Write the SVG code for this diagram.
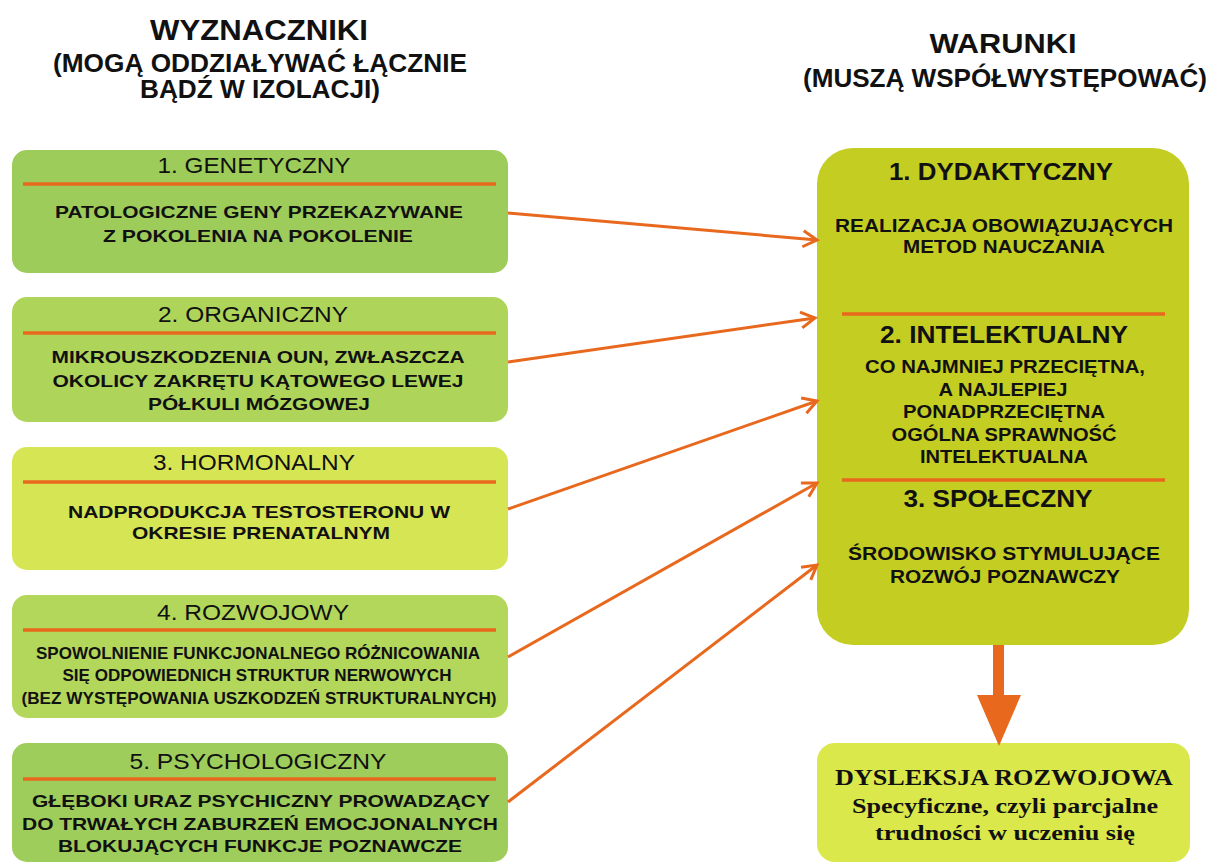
<svg xmlns="http://www.w3.org/2000/svg" width="1211" height="864" viewBox="0 0 1211 864">
<defs>
<style>
.hd{font-family:"Liberation Sans",Arial,sans-serif;font-weight:bold;fill:#111;text-anchor:middle}
.tt{font-family:"Liberation Sans",Arial,sans-serif;font-size:22px;fill:#111;text-anchor:middle}
.bd{font-family:"Liberation Sans",Arial,sans-serif;font-weight:bold;font-size:17px;fill:#111;text-anchor:middle}
.rt{font-family:"Liberation Sans",Arial,sans-serif;font-weight:bold;font-size:23px;fill:#111;text-anchor:middle}
.rb{font-family:"Liberation Sans",Arial,sans-serif;font-weight:bold;font-size:18px;fill:#111;text-anchor:middle}
.sf{font-family:"Liberation Serif","Times New Roman",serif;font-weight:bold;fill:#111;text-anchor:middle}
.sep{stroke:#e8691e;stroke-width:3.5}
.con{stroke:#e8691e;stroke-width:3;fill:none;marker-end:url(#arr)}
</style>
<marker id="arr" markerUnits="userSpaceOnUse" markerWidth="22" markerHeight="22" refX="17" refY="10" orient="auto">
<path d="M3,2 L17,10 L3,18" fill="none" stroke="#e8691e" stroke-width="3"/>
</marker>
</defs>
<rect width="1211" height="864" fill="#ffffff"/>

<g id="header-left">
<text class="hd" x="259" y="40" font-size="29" textLength="218" lengthAdjust="spacingAndGlyphs">WYZNACZNIKI</text>
<text class="hd" x="260" y="72" font-size="25" textLength="414" lengthAdjust="spacingAndGlyphs">(MOGĄ ODDZIAŁYWAĆ ŁĄCZNIE</text>
<text class="hd" x="260" y="98" font-size="25" textLength="240" lengthAdjust="spacingAndGlyphs">BĄDŹ W IZOLACJI)</text>
</g>
<g id="header-right">
<text class="hd" x="1003" y="53" font-size="28" textLength="147" lengthAdjust="spacingAndGlyphs">WARUNKI</text>
<text class="hd" x="1005" y="87" font-size="25" textLength="404" lengthAdjust="spacingAndGlyphs">(MUSZĄ WSPÓŁWYSTĘPOWAĆ)</text>
</g>

<g id="n1">
<rect x="12" y="150" width="496" height="123" rx="15" fill="#9dcc5a"/>
<line class="sep" x1="23" y1="184" x2="496" y2="184"/>
<text class="tt" x="254" y="173" textLength="193" lengthAdjust="spacingAndGlyphs">1. GENETYCZNY</text>
<text class="bd" x="259" y="218" textLength="408" lengthAdjust="spacingAndGlyphs">PATOLOGICZNE GENY PRZEKAZYWANE</text>
<text class="bd" x="258" y="242" textLength="310" lengthAdjust="spacingAndGlyphs">Z POKOLENIA NA POKOLENIE</text>
</g>
<g id="n2">
<rect x="12" y="297" width="496" height="125" rx="15" fill="#aed55a"/>
<line class="sep" x1="23" y1="333" x2="496" y2="333"/>
<text class="tt" x="253" y="322" textLength="190" lengthAdjust="spacingAndGlyphs">2. ORGANICZNY</text>
<text class="bd" x="258" y="363" textLength="413" lengthAdjust="spacingAndGlyphs">MIKROUSZKODZENIA OUN, ZWŁASZCZA</text>
<text class="bd" x="258" y="387" textLength="411" lengthAdjust="spacingAndGlyphs">OKOLICY ZAKRĘTU KĄTOWEGO LEWEJ</text>
<text class="bd" x="259" y="410" textLength="222" lengthAdjust="spacingAndGlyphs">PÓŁKULI MÓZGOWEJ</text>
</g>
<g id="n3">
<rect x="12" y="447" width="496" height="123" rx="15" fill="#d6e554"/>
<line class="sep" x1="23" y1="482" x2="496" y2="482"/>
<text class="tt" x="254" y="470" textLength="202" lengthAdjust="spacingAndGlyphs">3. HORMONALNY</text>
<text class="bd" x="259" y="518" textLength="382" lengthAdjust="spacingAndGlyphs">NADPRODUKCJA TESTOSTERONU W</text>
<text class="bd" x="261" y="539" textLength="258" lengthAdjust="spacingAndGlyphs">OKRESIE PRENATALNYM</text>
</g>
<g id="n4">
<rect x="12" y="595" width="496" height="123" rx="15" fill="#b3d75a"/>
<line class="sep" x1="23" y1="630" x2="496" y2="630"/>
<text class="tt" x="253" y="620" textLength="192" lengthAdjust="spacingAndGlyphs">4. ROZWOJOWY</text>
<text class="bd" x="258" y="659" font-size="16" textLength="444" lengthAdjust="spacingAndGlyphs">SPOWOLNIENIE FUNKCJONALNEGO RÓŻNICOWANIA</text>
<text class="bd" x="257" y="681" font-size="16" textLength="389" lengthAdjust="spacingAndGlyphs">SIĘ ODPOWIEDNICH STRUKTUR NERWOWYCH</text>
<text class="bd" x="259" y="704" font-size="16" textLength="475" lengthAdjust="spacingAndGlyphs">(BEZ WYSTĘPOWANIA USZKODZEŃ STRUKTURALNYCH)</text>
</g>
<g id="n5">
<rect x="12" y="743" width="496" height="119" rx="15" fill="#9ecd5b"/>
<line class="sep" x1="23" y1="779" x2="496" y2="779"/>
<text class="tt" x="258" y="769" textLength="257" lengthAdjust="spacingAndGlyphs">5. PSYCHOLOGICZNY</text>
<text class="bd" x="261" y="807" textLength="458" lengthAdjust="spacingAndGlyphs">GŁĘBOKI URAZ PSYCHICZNY PROWADZĄCY</text>
<text class="bd" x="260" y="830" textLength="476" lengthAdjust="spacingAndGlyphs">DO TRWAŁYCH ZABURZEŃ EMOCJONALNYCH</text>
<text class="bd" x="260" y="852" textLength="404" lengthAdjust="spacingAndGlyphs">BLOKUJĄCYCH FUNKCJE POZNAWCZE</text>
</g>

<g id="warunki">
<rect x="817" y="148" width="372" height="497" rx="36" fill="#c4cd22"/>
<line class="sep" x1="842" y1="314" x2="1165" y2="314"/>
<line class="sep" x1="842" y1="480" x2="1165" y2="480"/>
<text class="rt" x="1001" y="180" textLength="224" lengthAdjust="spacingAndGlyphs">1. DYDAKTYCZNY</text>
<text class="rb" x="1004" y="232" textLength="338" lengthAdjust="spacingAndGlyphs">REALIZACJA OBOWIĄZUJĄCYCH</text>
<text class="rb" x="1004" y="253" textLength="202" lengthAdjust="spacingAndGlyphs">METOD NAUCZANIA</text>
<text class="rt" x="1004" y="343" textLength="248" lengthAdjust="spacingAndGlyphs">2. INTELEKTUALNY</text>
<text class="rb" x="1005" y="373" textLength="280" lengthAdjust="spacingAndGlyphs">CO NAJMNIEJ PRZECIĘTNA,</text>
<text class="rb" x="1003" y="396" textLength="129" lengthAdjust="spacingAndGlyphs">A NAJLEPIEJ</text>
<text class="rb" x="1004" y="418" textLength="202" lengthAdjust="spacingAndGlyphs">PONADPRZECIĘTNA</text>
<text class="rb" x="1004" y="441" textLength="225" lengthAdjust="spacingAndGlyphs">OGÓLNA SPRAWNOŚĆ</text>
<text class="rb" x="1004" y="463" textLength="168" lengthAdjust="spacingAndGlyphs">INTELEKTUALNA</text>
<text class="rt" x="998" y="507" textLength="189" lengthAdjust="spacingAndGlyphs">3. SPOŁECZNY</text>
<text class="rb" x="1004" y="560" textLength="312" lengthAdjust="spacingAndGlyphs">ŚRODOWISKO STYMULUJĄCE</text>
<text class="rb" x="1005" y="583" textLength="230" lengthAdjust="spacingAndGlyphs">ROZWÓJ POZNAWCZY</text>
</g>

<g id="dysleksja">
<rect x="817" y="743" width="373" height="119" rx="18" fill="#dbe84c"/>
<text class="sf" x="1004" y="785" font-size="23" textLength="338" lengthAdjust="spacingAndGlyphs">DYSLEKSJA ROZWOJOWA</text>
<text class="sf" x="1005" y="813" font-size="22" textLength="306" lengthAdjust="spacingAndGlyphs">Specyficzne, czyli parcjalne</text>
<text class="sf" x="1005" y="840" font-size="22" textLength="260" lengthAdjust="spacingAndGlyphs">trudności w uczeniu się</text>
</g>

<g id="connectors">
<line class="con" x1="508" y1="213" x2="817" y2="240"/>
<line class="con" x1="508" y1="362" x2="815" y2="318"/>
<line class="con" x1="508" y1="509" x2="817" y2="401"/>
<line class="con" x1="508" y1="657" x2="817" y2="483"/>
<line class="con" x1="508" y1="802" x2="817" y2="565"/>
<rect x="993" y="645" width="11" height="52" fill="#e8691e"/>
<polygon points="977,695 1021,695 999,746" fill="#e8691e"/>
</g>
</svg>
